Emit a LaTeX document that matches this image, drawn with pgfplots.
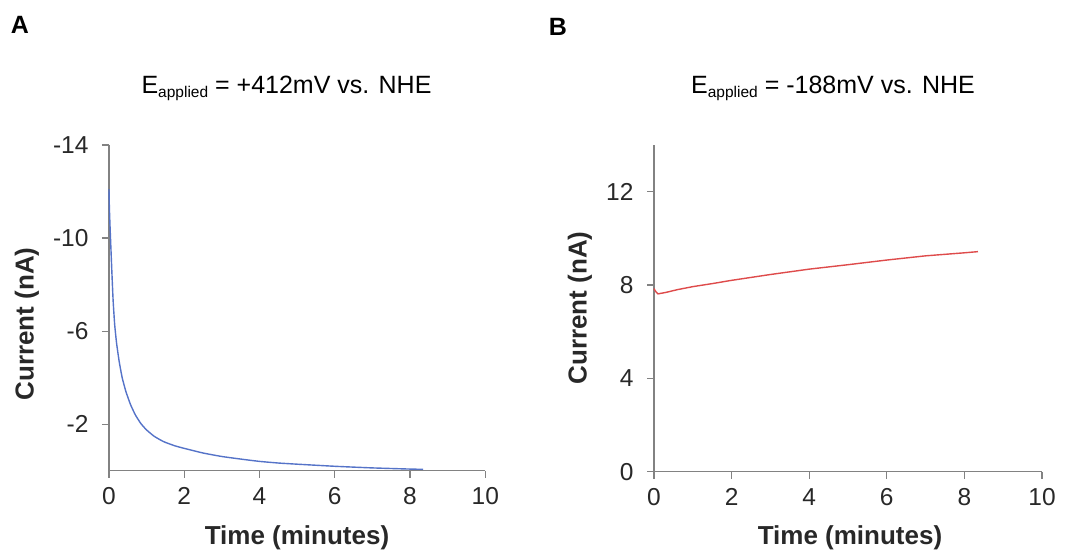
\documentclass[border=0pt]{standalone}
\usepackage{pgfplots}
\pgfplotsset{compat=1.18}
\usepackage{fontspec}
\setmainfont{Liberation Sans}
\definecolor{axgray}{RGB}{130,130,130}
\definecolor{txt}{RGB}{40,40,40}
\definecolor{blueline}{RGB}{85,115,200}
\definecolor{redline}{RGB}{222,75,75}

\pgfplotstableread{
x y
0.00 -12.1
0.01 -11.3
0.03 -10.4
0.05 -9.6
0.08 -8.4
0.11 -7.3
0.15 -6.3
0.20 -5.5
0.27 -4.7
0.35 -4.0
0.45 -3.4
0.57 -2.85
0.70 -2.4
0.85 -2.02
1.00 -1.75
1.20 -1.48
1.45 -1.25
1.75 -1.07
2.00 -0.96
2.50 -0.76
3.00 -0.61
3.50 -0.50
4.00 -0.40
4.50 -0.33
5.00 -0.28
6.00 -0.19
7.00 -0.12
8.00 -0.07
8.35 -0.06
}\dataA

\pgfplotstableread{
x y
0.00 7.85
0.03 7.75
0.10 7.62
0.30 7.68
0.60 7.80
1.00 7.93
1.50 8.06
2.00 8.20
3.00 8.45
4.00 8.68
5.00 8.87
6.00 9.07
7.00 9.25
8.00 9.38
8.35 9.43
}\dataB

\begin{document}
\begin{tikzpicture}[x=1pt,y=1pt]
\useasboundingbox (0,0) rectangle (1074,556);
\pgfplotsset{
  panel/.style={
    scale only axis,
    anchor=south west,
    axis x line*=bottom,
    axis y line*=left,
    axis line style={axgray, line width=1.2pt},
    tick style={axgray, line width=1.2pt},
    tick align=outside,
    major tick length=7pt,
    xmin=0, xmax=10,
    xtick={0,2,4,6,8,10},
    tick label style={font=\fontsize{24.5}{26}\selectfont, text=txt},
    xticklabel style={yshift=-6pt},
    yticklabel style={xshift=-10pt},
    /pgf/number format/assume math mode=true,
    clip=false,
  }
}
\begin{axis}[panel,
  at={(109pt,85.3pt)}, width=376.3pt, height=325.7pt,
  ymin=-14, ymax=0, y dir=reverse,
  ytick={-14,-10,-6,-2}, yticklabels={-14,-10,-6,-2}]
\addplot[blueline, line width=1.4pt, smooth, tension=0.3] table[x=x,y=y] {\dataA};
\end{axis}

\begin{axis}[panel,
  at={(654pt,84.3pt)}, width=388pt, height=326.7pt,
  ymin=0, ymax=14,
  ytick={0,4,8,12}]
\addplot[redline, line width=1.4pt] table[x=x,y=y] {\dataB};
\end{axis}

% panel letters
\node[font=\fontsize{25}{26}\selectfont\bfseries, text=black] at (20,531) {A};
\node[font=\fontsize{25}{26}\selectfont\bfseries, text=black] at (558,529) {B};
% titles
\node[font=\fontsize{25}{26}\selectfont, text=black] at (286.5,468)
  {E\raisebox{-4pt}{\fontsize{15.5}{16}\selectfont applied} = +412mV vs. NHE};
\node[font=\fontsize{25}{26}\selectfont, text=black] at (833,468)
  {E\raisebox{-4pt}{\fontsize{15.5}{16}\selectfont applied} = -188mV vs. NHE};
% axis labels
\node[font=\fontsize{26}{27}\selectfont\bfseries, text=txt, rotate=90] at (27,232) {Current (nA)};
\node[font=\fontsize{26}{27}\selectfont\bfseries, text=txt, rotate=90] at (580,248) {Current (nA)};
\node[font=\fontsize{26}{27}\selectfont\bfseries, text=txt] at (297,18) {Time (minutes)};
\node[font=\fontsize{26}{27}\selectfont\bfseries, text=txt] at (850,18) {Time (minutes)};
\end{tikzpicture}
\end{document}
